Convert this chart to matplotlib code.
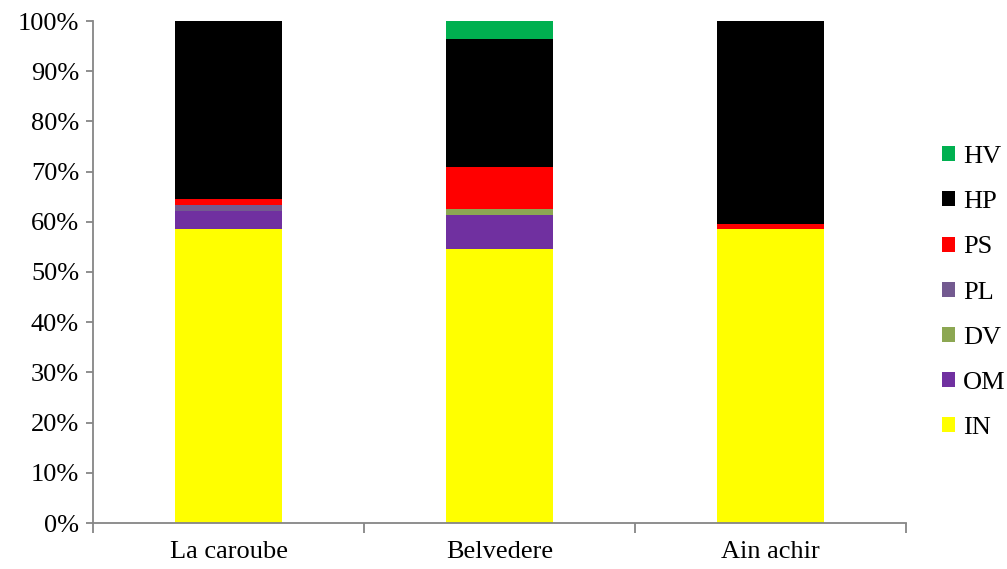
import matplotlib
matplotlib.use("Agg")
import matplotlib.pyplot as plt
from matplotlib.patches import Patch
from matplotlib.ticker import PercentFormatter

sites = ["La caroube", "Belvedere", "Ain achir"]

# Percentage composition per site (bottom to top)
IN = [58.6, 54.6, 58.6]
OM = [3.6, 6.8, 0.0]
DV = [0.0, 1.2, 0.0]
PL = [1.2, 0.0, 0.0]
PS = [1.2, 8.3, 1.0]
HP = [35.4, 25.5, 40.4]
HV = [0.0, 3.6, 0.0]

series = [
    ("IN", IN, "#FFFF00"),
    ("OM", OM, "#7030A0"),
    ("DV", DV, "#8CA752"),
    ("PL", PL, "#735A90"),
    ("PS", PS, "#FF0000"),
    ("HP", HP, "#000000"),
    ("HV", HV, "#00B050"),
]

plt.rcParams["font.family"] = ["Liberation Serif", "DejaVu Serif"]

fig = plt.figure(figsize=(10.07, 5.69), dpi=100)
ax = fig.add_axes([93 / 1007, 1 - 523 / 569, (906 - 93) / 1007, (523 - 21) / 569])

x = list(range(len(sites)))
bottom = [0.0] * len(sites)
for name, vals, color in series:
    ax.bar(x, vals, bottom=bottom, width=0.395, color=color, label=name, linewidth=0)
    bottom = [b + v for b, v in zip(bottom, vals)]

ax.set_xlim(-0.5, len(sites) - 0.5)
ax.set_ylim(0, 100)
ax.set_yticks(range(0, 101, 10))
ax.yaxis.set_major_formatter(PercentFormatter(decimals=0))
ax.set_xticks(x)
ax.set_xticklabels(sites)
ax.set_xticks([i - 0.5 for i in range(len(sites) + 1)], minor=True)

gray = "#868686"
for side in ("top", "right"):
    ax.spines[side].set_visible(False)
for side in ("left", "bottom"):
    ax.spines[side].set_color(gray)
    ax.spines[side].set_linewidth(1.3)

ax.tick_params(axis="y", which="major", length=5, width=1.3, color=gray,
               labelsize=19, pad=5)
ax.tick_params(axis="x", which="major", length=0, labelsize=19, pad=13)
ax.tick_params(axis="x", which="minor", length=7, width=1.3, color=gray)

handles = [Patch(facecolor=c, edgecolor="none", label=n) for n, _, c in reversed(series)]
leg = fig.legend(handles=handles, loc="upper left", bbox_to_anchor=(942 / 1007, 1 - 146 / 569),
                 frameon=False, fontsize=19, handlelength=0.5, handleheight=0.5,
                 handletextpad=0.3, labelspacing=0.88, borderaxespad=0, borderpad=0)

fig.savefig("out.png", dpi=100)
